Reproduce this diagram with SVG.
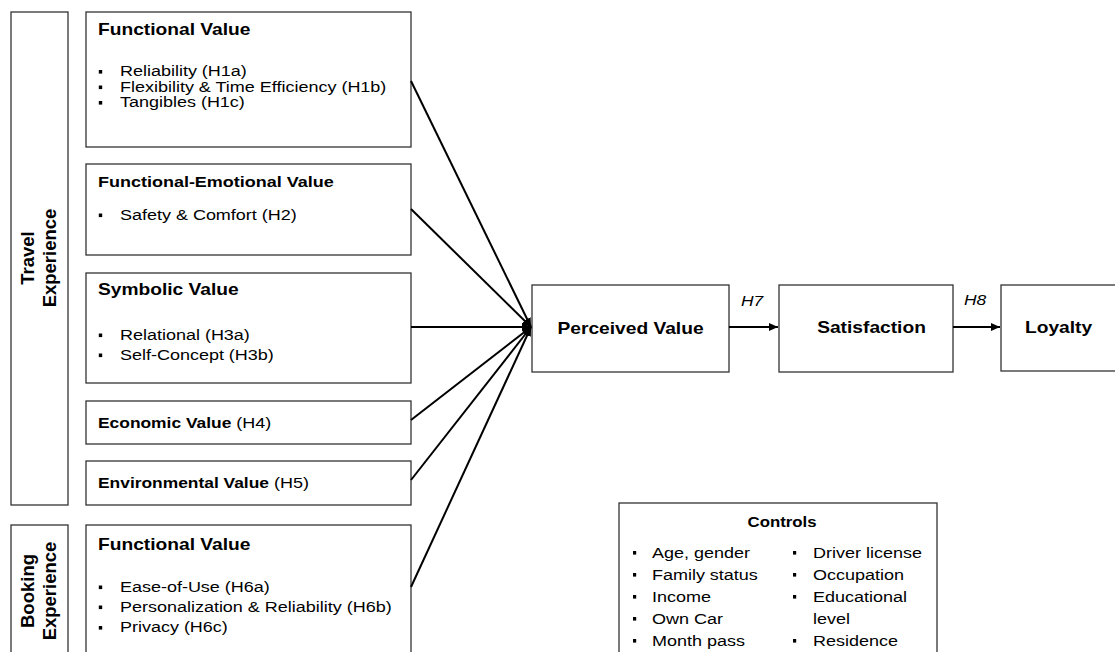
<svg xmlns="http://www.w3.org/2000/svg" width="1115" height="652" viewBox="0 0 1115 652">
<defs>
<style>
.box{fill:#fff;stroke:#333;stroke-width:1.3}
text{font-family:"Liberation Sans",Arial,sans-serif;fill:#000}
.r{font-size:15px}
.n{font-size:15px;font-weight:normal}
.b{font-size:16px;font-weight:bold}
.b15{font-size:15px;font-weight:bold}
.b145{font-size:14.5px;font-weight:bold}
.b14{font-size:14px;font-weight:bold}
.side{font-size:18.5px;font-weight:bold;text-anchor:middle}
.mid{text-anchor:middle}
.it{font-size:14.5px;font-style:italic}
.bul{fill:#000}
.con{stroke:#000;stroke-width:2;fill:none;marker-end:url(#ah)}
</style>
<marker id="ah" markerUnits="userSpaceOnUse" markerWidth="10" markerHeight="8" refX="9" refY="4" orient="auto"><path d="M0,0 L9,4 L0,8 z" fill="#000"/></marker>
</defs>
<rect x="0" y="0" width="1115" height="652" fill="#fff"/>

<g id="travel-experience">
<rect class="box" x="11" y="12" width="57" height="493"/>
<g transform="translate(0,258) rotate(-90)">
<text class="side" x="0" y="33.5">Travel</text>
<text class="side" x="0" y="55.5">Experience</text>
</g>
</g>

<g id="booking-experience">
<rect class="box" x="11" y="525" width="57" height="140"/>
<g transform="translate(0,591) rotate(-90)">
<text class="side" x="0" y="33.5">Booking</text>
<text class="side" x="0" y="55.5">Experience</text>
</g>
</g>

<g id="functional-value-travel">
<rect class="box" x="86" y="12" width="325" height="135"/>
<g transform="matrix(1.2 0 0 1 98 0)">
<text class="b" x="0" y="35">Functional Value</text>
<text class="r" x="18.3" y="76.5">Reliability (H1a)</text>
<text class="r" x="18.3" y="92">Flexibility &amp; Time Efficiency (H1b)</text>
<text class="r" x="18.3" y="107.5">Tangibles (H1c)</text>
</g>
<rect class="bul" x="98.8" y="70" width="3.4" height="3.6"/>
<rect class="bul" x="98.8" y="85.5" width="3.4" height="3.6"/>
<rect class="bul" x="98.8" y="101" width="3.4" height="3.6"/>
</g>

<g id="functional-emotional-value">
<rect class="box" x="86" y="164" width="325" height="91"/>
<g transform="matrix(1.2 0 0 1 98 0)">
<text class="b15" x="0" y="187">Functional-Emotional Value</text>
<text class="r" x="18.3" y="220">Safety &amp; Comfort (H2)</text>
</g>
<rect class="bul" x="98.8" y="213.5" width="3.4" height="3.6"/>
</g>

<g id="symbolic-value">
<rect class="box" x="86" y="273" width="325" height="110"/>
<g transform="matrix(1.2 0 0 1 98 0)">
<text class="b" x="0" y="295.5">Symbolic Value</text>
<text class="r" x="18.3" y="340">Relational (H3a)</text>
<text class="r" x="18.3" y="360">Self-Concept (H3b)</text>
</g>
<rect class="bul" x="98.8" y="333.5" width="3.4" height="3.6"/>
<rect class="bul" x="98.8" y="353.5" width="3.4" height="3.6"/>
</g>

<g id="economic-value">
<rect class="box" x="86" y="401" width="325" height="43"/>
<g transform="matrix(1.2 0 0 1 98 0)">
<text class="b145" x="0" y="428">Economic Value<tspan class="n"> (H4)</tspan></text>
</g>
</g>

<g id="environmental-value">
<rect class="box" x="86" y="461" width="325" height="44"/>
<g transform="matrix(1.2 0 0 1 98 0)">
<text class="b145" x="0" y="488">Environmental Value<tspan class="n"> (H5)</tspan></text>
</g>
</g>

<g id="functional-value-booking">
<rect class="box" x="86" y="525" width="325" height="140"/>
<g transform="matrix(1.2 0 0 1 98 0)">
<text class="b" x="0" y="550">Functional Value</text>
<text class="r" x="18.3" y="592">Ease-of-Use (H6a)</text>
<text class="r" x="18.3" y="612">Personalization &amp; Reliability (H6b)</text>
<text class="r" x="18.3" y="632.5">Privacy (H6c)</text>
</g>
<rect class="bul" x="98.8" y="585.5" width="3.4" height="3.6"/>
<rect class="bul" x="98.8" y="605.5" width="3.4" height="3.6"/>
<rect class="bul" x="98.8" y="626" width="3.4" height="3.6"/>
</g>

<g id="perceived-value">
<rect class="box" x="532" y="285" width="197" height="87"/>
<g transform="matrix(1.2 0 0 1 630.5 0)">
<text class="b mid" x="0" y="334">Perceived Value</text>
</g>
</g>

<g id="satisfaction">
<rect class="box" x="779" y="285" width="174" height="87"/>
<g transform="matrix(1.2 0 0 1 871.5 0)">
<text class="b mid" x="0" y="333">Satisfaction</text>
</g>
</g>

<g id="loyalty">
<rect class="box" x="1001" y="285" width="130" height="86"/>
<g transform="matrix(1.2 0 0 1 1025 0)">
<text class="b" x="0" y="333">Loyalty</text>
</g>
</g>

<g id="controls">
<rect class="box" x="619" y="503" width="318" height="160"/>
<g transform="matrix(1.2 0 0 1 633 0)">
<text class="b14 mid" x="124.2" y="527">Controls</text>
<text class="r" x="15.8" y="558">Age, gender</text>
<text class="r" x="15.8" y="580">Family status</text>
<text class="r" x="15.8" y="602">Income</text>
<text class="r" x="15.8" y="624">Own Car</text>
<text class="r" x="15.8" y="646">Month pass</text>
<text class="r" x="150" y="558">Driver license</text>
<text class="r" x="150" y="580">Occupation</text>
<text class="r" x="150" y="602">Educational</text>
<text class="r" x="150" y="624">level</text>
<text class="r" x="150" y="646">Residence</text>
</g>
<rect class="bul" x="633" y="551" width="3.2" height="3.6"/>
<rect class="bul" x="633" y="573" width="3.2" height="3.6"/>
<rect class="bul" x="633" y="595" width="3.2" height="3.6"/>
<rect class="bul" x="633" y="617" width="3.2" height="3.6"/>
<rect class="bul" x="633" y="639" width="3.2" height="3.6"/>
<rect class="bul" x="793" y="551" width="3.2" height="3.6"/>
<rect class="bul" x="793" y="573" width="3.2" height="3.6"/>
<rect class="bul" x="793" y="595" width="3.2" height="3.6"/>
<rect class="bul" x="793" y="639" width="3.2" height="3.6"/>
</g>

<g id="connectors">
<line class="con" x1="411" y1="81" x2="531" y2="327"/>
<line class="con" x1="411" y1="209" x2="531" y2="327"/>
<line class="con" x1="411" y1="327" x2="531" y2="327"/>
<line class="con" x1="411" y1="420" x2="531" y2="327"/>
<line class="con" x1="411" y1="480" x2="531" y2="327"/>
<line class="con" x1="411" y1="587" x2="531" y2="327"/>
<line class="con" x1="729" y1="327" x2="778" y2="327"/>
<line class="con" x1="953" y1="327" x2="1000" y2="327"/>
<g transform="matrix(1.2 0 0 1 741 0)"><text class="it" x="0" y="306">H7</text></g>
<g transform="matrix(1.2 0 0 1 964 0)"><text class="it" x="0" y="305">H8</text></g>
</g>
</svg>
